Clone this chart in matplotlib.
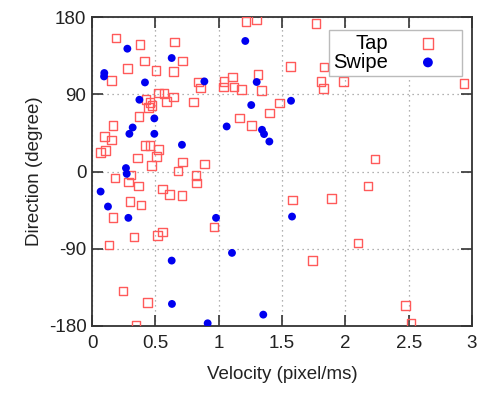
import matplotlib
matplotlib.use("Agg")
import matplotlib.pyplot as plt

tap_x = [0.19, 0.38, 0.65, 0.416, 0.716, 0.279, 0.505, 0.642, 0.155, 0.842, 0.858, 0.524, 0.568, 0.642,
         0.59, 0.80, 0.426, 0.458, 0.447, 0.474, 0.371, 0.166, 0.097, 0.155, 0.068, 0.108, 0.418, 0.458,
         0.524, 0.358, 0.51, 0.468, 0.716, 0.68, 0.887, 0.82, 0.18, 0.308, 1.215, 1.30, 1.31, 1.336,
         1.042, 1.036, 1.11, 1.12, 1.18, 1.163, 1.26, 1.40,
         0.826, 0.287, 0.368, 0.555, 0.61, 0.71, 0.30, 0.387, 0.166, 0.963, 0.558, 0.515, 0.331, 0.134,
         0.245, 0.44, 0.347,
         1.768, 1.568, 1.83, 1.807, 1.826, 1.984, 2.936, 1.478, 2.234,
         2.178, 1.584, 1.889, 2.10, 1.742, 2.473, 2.518]
tap_y = [156, 148, 151, 129, 129, 120, 118, 117, 106, 104.5, 97.5, 91.6, 90.8, 87,
         81.5, 81, 84, 80.7, 74.5, 76.8, 64.3, 53.4, 40.6, 36.7, 22.2, 24.6, 30.4, 30.4,
         25.4, 15.6, 17.5, 7, 11.3, 0.5, 9, -4.7, -7.4, -3.9, 175, 177.3, 113.4, 94.7,
         105.2, 98.6, 110.3, 98.6, 95.5, 62.4, 53.4, 68.2,
         -13.6, -12.4, -17.1, -20.2, -26.9, -28, -35, -38.9, -53.8, -64.6, -70.5, -74.8, -76.7, -86,
         -139.4, -152.7, -179.5,
         172.6, 122.7, 122, 105.2, 97, 104.8, 102.9, 79.9, 14.5,
         -16.7, -33.1, -31.6, -83.3, -104, -156.2, -177.2]

swipe_x = [0.279, 0.097, 0.095, 0.418, 0.629, 0.887, 0.374, 0.492, 0.321, 0.295, 0.492, 0.71, 0.268,
           0.274, 1.21, 1.30, 1.257, 1.063, 1.342, 1.358, 1.40, 0.068, 0.126, 0.287, 0.979, 1.105,
           0.629, 0.631, 0.913, 1.352, 1.571, 1.579]
swipe_y = [143.4, 115, 111, 104, 132.5, 105.2, 83.8, 62, 51.4, 44, 44, 31.2, 4,
           -2.7, 152.4, 104.5, 77.6, 52.6, 48.7, 43.7, 35, -23.4, -40.9, -54.1, -54.1, -95,
           -104, -154.6, -177.2, -167.1, 82.6, -52.6]

x_ticks = [0, 0.5, 1, 1.5, 2, 2.5, 3]
x_tick_labels = ["0", "0.5", "1", "1.5", "2", "2.5", "3"]
y_ticks = [-180, -90, 0, 90, 180]
y_tick_labels = ["-180", "-90", "0", "90", "180"]

plt.rcParams['font.family'] = ['Liberation Sans', 'DejaVu Sans']

fig = plt.figure(figsize=(4.78, 3.94), dpi=100)
ax = fig.add_axes([0.1925, 0.1734, 0.795, 0.7826])

ax.scatter(tap_x, tap_y, marker='s', s=38, facecolors='none', edgecolors='#ff5a5a',
           linewidths=1.0, label='Tap', zorder=3)
ax.scatter(swipe_x, swipe_y, marker='o', s=32, color='#0000f0', edgecolors='none',
           label='Swipe', zorder=4)

ax.set_xlim(0, 3)
ax.set_ylim(-180, 180)
ax.set_xticks(x_ticks)
ax.set_xticklabels(x_tick_labels)
ax.set_yticks(y_ticks)
ax.set_yticklabels(y_tick_labels)
ax.grid(True, linestyle=(0, (1, 3)), color='#999999', linewidth=0.9)
ax.set_axisbelow(True)

ax.tick_params(direction='in', length=8, width=1.2, top=True, right=True,
               labelsize=13.5, colors='#333333', labelcolor='#222222')
ax.tick_params(axis='x', pad=7)
ax.tick_params(axis='y', pad=4)
for sp in ax.spines.values():
    sp.set_linewidth(1.3)
    sp.set_color('#333333')

ax.set_xlabel('Velocity (pixel/ms)', fontsize=13.5, color='#222222', labelpad=10)
ax.set_ylabel('Direction (degree)', fontsize=13.5, color='#222222', labelpad=4)

leg = ax.legend(loc='upper right', bbox_to_anchor=(0.974, 0.96), borderaxespad=0,
                markerfirst=False, fancybox=False, framealpha=1, edgecolor='#bbbbbb',
                fontsize=14.5, handletextpad=0.5, labelspacing=0.0, borderpad=0.2,
                handlelength=3.0, markerscale=1.25)
leg.get_frame().set_linewidth(1.0)

fig.savefig('out.png', dpi=100)
